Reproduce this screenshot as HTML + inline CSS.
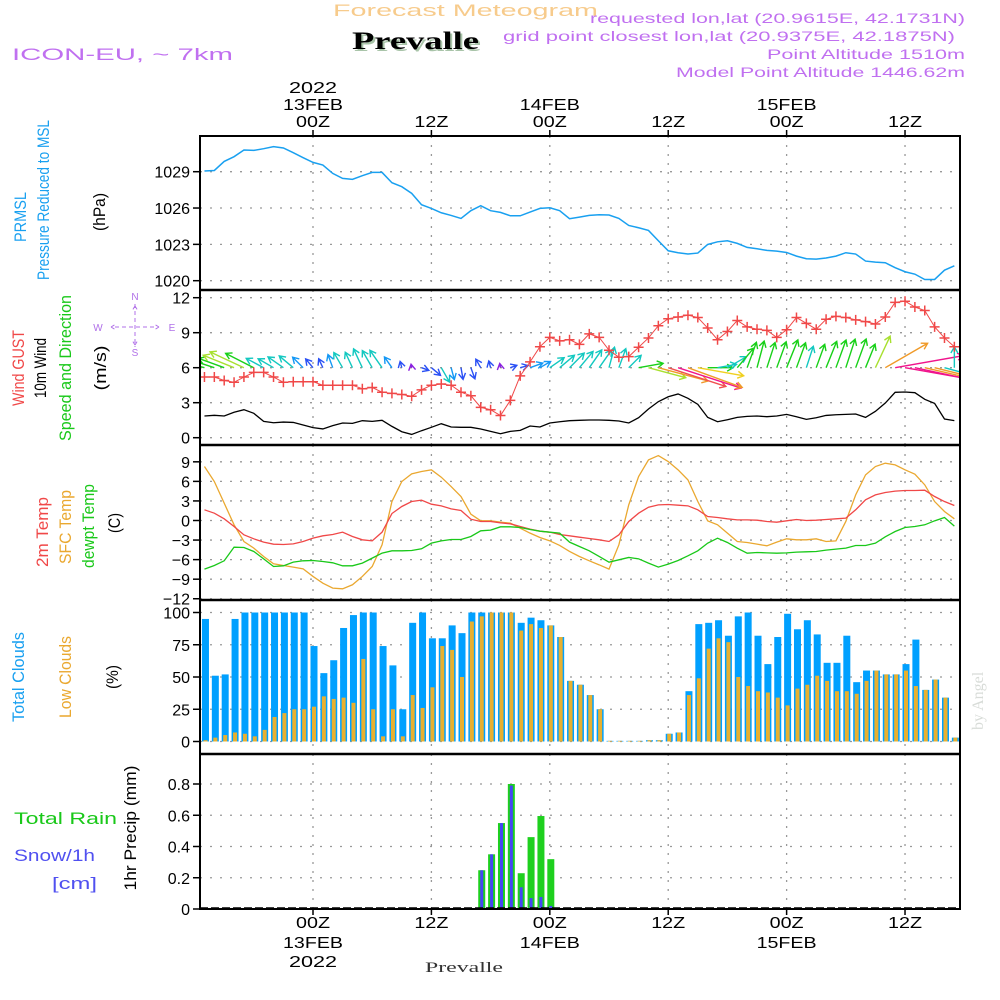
<!DOCTYPE html>
<html><head><meta charset="utf-8"><title>Forecast Meteogram Prevalle</title>
<style>
html,body{margin:0;padding:0;background:#fff;}
svg{display:block;font-family:"Liberation Sans",sans-serif;}
.tick{font-size:16px;fill:#000;text-anchor:end;}
.tl{font-size:16px;fill:#000;text-anchor:middle;}
</style></head>
<body>
<svg id="chart" width="1000" height="1000" viewBox="0 0 1000 1000" xmlns="http://www.w3.org/2000/svg">
<rect x="0" y="0" width="1000" height="1000" fill="#fff"/>
<defs>
<clipPath id="c1"><rect x="200" y="136" width="760" height="154"/></clipPath>
<clipPath id="c2"><rect x="200" y="290" width="760" height="155"/></clipPath>
<clipPath id="c3"><rect x="200" y="445" width="760" height="155"/></clipPath>
<clipPath id="c4"><rect x="200" y="600" width="760" height="154"/></clipPath>
<clipPath id="c5"><rect x="200" y="754" width="760" height="155"/></clipPath>
</defs>
<text x="333" y="16" font-size="17" fill="#f7cb8c" textLength="265" lengthAdjust="spacingAndGlyphs">Forecast Meteogram</text>
<text x="354" y="51" font-family="Liberation Serif, serif" font-weight="bold" font-size="25" fill="#a9c4a9" textLength="127" lengthAdjust="spacingAndGlyphs">Prevalle</text>
<text x="352" y="49" font-family="Liberation Serif, serif" font-weight="bold" font-size="25" fill="#000" textLength="127" lengthAdjust="spacingAndGlyphs">Prevalle</text>
<text x="12" y="60" font-size="17" fill="#c070f0" textLength="221" lengthAdjust="spacingAndGlyphs">ICON-EU, ~ 7km</text>
<text x="965" y="23" font-size="14" fill="#c070f0" text-anchor="end" textLength="375" lengthAdjust="spacingAndGlyphs">requested lon,lat (20.9615E, 42.1731N)</text>
<text x="955" y="41" font-size="14" fill="#c070f0" text-anchor="end" textLength="452" lengthAdjust="spacingAndGlyphs">grid point closest lon,lat (20.9375E, 42.1875N)</text>
<text x="965" y="59" font-size="14" fill="#c070f0" text-anchor="end" textLength="198" lengthAdjust="spacingAndGlyphs">Point Altitude 1510m</text>
<text x="965" y="77" font-size="14" fill="#c070f0" text-anchor="end" textLength="289" lengthAdjust="spacingAndGlyphs">Model Point Altitude 1446.62m</text>
<text transform="translate(983,730) rotate(-90)" font-family="Liberation Serif, serif" font-size="16" fill="#d8dcd8">by Angel</text>
<text x="425" y="972" font-family="Liberation Serif, serif" font-size="15" fill="#333" textLength="78" lengthAdjust="spacingAndGlyphs">Prevalle</text>

<g font-size="17">
<text transform="translate(26,217) rotate(-90)" text-anchor="middle" fill="#19a0f0" textLength="50" lengthAdjust="spacingAndGlyphs">PRMSL</text>
<text transform="translate(49,200) rotate(-90)" text-anchor="middle" fill="#19a0f0" textLength="160" lengthAdjust="spacingAndGlyphs">Pressure Reduced to MSL</text>
<text transform="translate(105,212) rotate(-90)" text-anchor="middle" fill="#000" textLength="38" lengthAdjust="spacingAndGlyphs">(hPa)</text>
<text transform="translate(24,368) rotate(-90)" text-anchor="middle" fill="#f04848" textLength="76" lengthAdjust="spacingAndGlyphs">Wind GUST</text>
<text transform="translate(46,368) rotate(-90)" text-anchor="middle" fill="#000" textLength="60" lengthAdjust="spacingAndGlyphs">10m Wind</text>
<text transform="translate(71,368) rotate(-90)" text-anchor="middle" fill="#19c819" textLength="146" lengthAdjust="spacingAndGlyphs">Speed and Direction</text>
<text transform="translate(106,368) rotate(-90)" text-anchor="middle" fill="#000" textLength="45" lengthAdjust="spacingAndGlyphs">(m/s)</text>
<text transform="translate(48,532) rotate(-90)" text-anchor="middle" fill="#f04848" textLength="70" lengthAdjust="spacingAndGlyphs">2m Temp</text>
<text transform="translate(71,527) rotate(-90)" text-anchor="middle" fill="#eaa830" textLength="74" lengthAdjust="spacingAndGlyphs">SFC Temp</text>
<text transform="translate(94,526) rotate(-90)" text-anchor="middle" fill="#19c819" textLength="84" lengthAdjust="spacingAndGlyphs">dewpt Temp</text>
<text transform="translate(120,523) rotate(-90)" text-anchor="middle" fill="#000" textLength="20" lengthAdjust="spacingAndGlyphs">(C)</text>
<text transform="translate(24,677) rotate(-90)" text-anchor="middle" fill="#19a0f0" textLength="90" lengthAdjust="spacingAndGlyphs">Total Clouds</text>
<text transform="translate(71,677) rotate(-90)" text-anchor="middle" fill="#eaa830" textLength="82" lengthAdjust="spacingAndGlyphs">Low Clouds</text>
<text transform="translate(118,677) rotate(-90)" text-anchor="middle" fill="#000" textLength="24" lengthAdjust="spacingAndGlyphs">(%)</text>
<text transform="translate(136,828) rotate(-90)" text-anchor="middle" fill="#000" textLength="125" lengthAdjust="spacingAndGlyphs">1hr Precip (mm)</text>
<text x="14" y="824" fill="#19c819" textLength="103" lengthAdjust="spacingAndGlyphs">Total   Rain</text>
<text x="14" y="861" fill="#5050f0" textLength="81" lengthAdjust="spacingAndGlyphs">Snow/1h</text>
<text x="52" y="889" fill="#5050f0" textLength="45" lengthAdjust="spacingAndGlyphs">[cm]</text>
</g>
<g fill="#b070e8" font-size="11" stroke="none">
<text x="135" y="300" text-anchor="middle" font-size="10">N</text>
<text x="135" y="356" text-anchor="middle" font-size="10">S</text>
<text x="98" y="331" text-anchor="middle" font-size="10">W</text>
<text x="172" y="331" text-anchor="middle" font-size="10">E</text>
<path d="M135 304 V347 M115 327 H155 M111 327 l5 -3 M111 327 l5 3 M159 327 l-5 -3 M159 327 l-5 3 M135 306 l-3 5 M135 306 l3 5 M135 345 l-3 -5 M135 345 l3 -5" stroke="#b070e8" stroke-width="1" stroke-dasharray="4 3" fill="none"/>
</g>

<g id="grid"></g>
<g id="marks"></g>
<g id="frames"></g>
<g id="labels"></g>
</svg>
<script>
const hours = [];
for (let h = -11; h <= 65; h++) hours.push(h);
const pressure = [1029.06,1029.1,1029.85,1030.24,1030.79,1030.76,1030.9,1031.07,1030.96,1030.57,1030.16,1029.77,1029.55,1028.86,1028.45,1028.37,1028.67,1028.94,1028.94,1028.09,1027.76,1027.21,1026.27,1025.97,1025.61,1025.39,1025.14,1025.78,1026.19,1025.78,1025.64,1025.36,1025.36,1025.67,1025.97,1026.02,1025.78,1025.12,1025.25,1025.39,1025.45,1025.42,1025.14,1024.56,1024.37,1024.15,1023.3,1022.47,1022.31,1022.2,1022.28,1022.99,1023.21,1023.3,1023.08,1022.75,1022.64,1022.5,1022.44,1022.33,1022.03,1021.81,1021.78,1021.87,1022.03,1022.31,1022.2,1021.62,1021.53,1021.48,1021.07,1020.74,1020.54,1020.1,1020.1,1020.87,1021.23];
const gust = [5.2,5.2,4.9,4.75,5.2,5.6,5.6,5.2,4.75,4.8,4.8,4.8,4.5,4.5,4.5,4.5,4.2,4.3,3.9,3.8,3.7,3.55,4.1,4.5,4.6,4.5,3.9,3.6,2.6,2.4,1.9,3.2,5.3,6.5,7.8,8.6,8.3,8.4,8.0,8.9,
8.6,7.5,6.9,6.95,7.75,8.55,9.6,10.2,10.35,10.5,10.3,9.4,8.4,9.1,10.05,9.5,9.3,9.2,8.6,9.25,10.3,9.8,9.3,10.15,10.4,10.3,10.1,9.95,9.75,10.35,11.6,11.7,11.2,10.9,9.5,8.55,7.8];
const wind = [1.86,1.92,1.86,2.18,2.4,2.09,1.4,1.28,1.34,1.31,1.09,0.86,0.75,1.03,1.26,1.23,1.46,1.4,1.49,0.97,0.51,0.28,0.6,0.89,1.2,0.92,0.89,0.89,0.75,0.54,0.34,0.54,0.63,1.0,0.92,1.26,1.37,1.46,1.49,1.52,
1.52,1.49,1.43,1.26,1.71,2.46,3.09,3.51,3.75,3.38,2.86,1.74,1.37,1.54,1.74,1.83,1.86,1.8,1.86,2.0,1.8,1.57,1.71,1.91,1.97,2.0,2.03,1.74,2.26,2.97,3.89,3.92,3.86,3.29,2.94,1.6,1.46];
const windDir = [285,288,290,292,295,297,298,300,305,310,315,320,335,340,330,335,335,330,325,325,345,350,110,130,150,165,170,160,330,345,350,70,75,70,60,55,50,45,40,35,
35,15,20,45,80,105,105,108,108,110,100,90,80,60,40,20,15,18,20,22,20,18,20,22,20,18,20,22,25,60,80,100,102,103,104,105,0];
const temp2m = [1.64,1.12,0.26,-0.92,-2.2,-2.81,-3.32,-3.63,-3.68,-3.58,-3.22,-2.71,-2.35,-2.15,-1.79,-2.45,-2.96,-3.12,-1.79,1.07,2.15,2.91,3.12,2.5,2.25,1.79,1.53,0.2,-0.15,-0.15,-0.36,-0.51,-0.92,-1.33,-1.64,-1.79,-2.15,-2.35,-2.56,-2.76,-2.96,-3.22,-2.2,-0.15,1.12,2.04,2.4,2.45,2.35,2.25,1.64,0.61,0.46,0.26,0.1,0.1,0.05,-0.15,-0.26,-0.05,0.15,0,0.05,0.15,0.26,0.36,1.64,3.17,3.93,4.29,4.5,4.6,4.6,4.65,3.68,2.91,2.3];
const tempSfc = [8.28,5.98,2.66,-0.66,-3.22,-4.24,-5.52,-6.64,-6.9,-7.15,-7.41,-8.58,-9.61,-10.37,-10.48,-9.86,-8.58,-7.05,-3.73,2.91,5.98,7.15,7.51,7.77,6.64,5.21,3.68,0.97,-0.05,-0.05,-0.26,-0.41,-1.18,-1.94,-2.61,-3.12,-3.83,-4.75,-5.52,-6.18,-6.8,-7.46,-3.73,2.4,6.75,9.3,9.96,9.04,7.77,6.23,2.91,-0.05,-0.66,-1.94,-3.22,-3.37,-3.63,-3.88,-3.32,-2.81,-2.96,-2.96,-2.81,-3.22,-3.12,-0.15,3.93,7.0,8.28,8.79,8.53,7.77,7.1,5.47,2.91,1.38,0.26];
const dewpt = [-7.46,-6.9,-6.18,-4.09,-4.14,-4.75,-5.88,-7.05,-6.95,-6.39,-6.18,-6.13,-6.29,-6.49,-6.95,-6.95,-6.54,-5.77,-5.01,-4.65,-4.65,-4.6,-4.34,-3.47,-3.12,-2.91,-2.91,-2.45,-1.58,-1.48,-0.97,-0.97,-1.07,-1.38,-1.64,-1.79,-1.94,-3.32,-3.99,-4.65,-5.52,-6.39,-6.03,-5.67,-5.88,-6.54,-7.15,-6.69,-6.13,-5.42,-4.65,-3.47,-2.71,-3.37,-4.24,-5.01,-4.91,-4.96,-5.01,-4.96,-4.85,-4.8,-4.75,-4.55,-4.39,-4.24,-3.83,-3.83,-3.47,-2.5,-1.69,-1.07,-0.92,-0.66,-0.05,0.46,-0.87];
const totalClouds = [95,51,52,95,100,100,100,100,100,100,100,74,53,63,88,98,100,100,74,59,25,92,100,80,80,90,84,100,100,100,100,100,92,96,94,90,81,47,44,36,25,0.5,0.5,0.5,0.5,1,1,6,7,39,91,92,94,82,97,100,82,60,81,99,87,94,83,61,61,82,46,55,55,52,52,60,79,40,48,34,3];
const lowClouds = [1,3,5,7,6,4,9,19,22,25,25,27,35,33,34,30,64,25,4,25,4,36,26,42,74,71,50,93,97,100,100,100,86,91,88,90,81,47,44,36,25,0.5,0.5,0.5,0.5,1,1,6,7,36,49,72,80,77,50,43,39,38,34,28,41,44,51,47,39,39,37,47,55,52,52,55,43,40,48,34,3];
const precipHours = [17,18,19,20,21,22,23,24];
const rainTotal = [0.248,0.35,0.55,0.8,0.229,0.46,0.595,0.319];
const snow = [0.248,0.35,0.55,0.79,0.139,0.07,0.077,0.02];
const pressTicks = [1020,1023,1026,1029];
const windTicks = [0,3,6,9,12];
const tempTicks = [-12,-9,-6,-3,0,3,6,9];
const cloudTicks = [0,25,50,75,100];
const precipTicks = [0,0.2,0.4,0.6,0.8];
const precipTickLabels = ["0","0.2","0.4","0.6","0.8"];
const timeTicks = [0,12,24,36,48,60];
const timeLabels = ["00Z","12Z","00Z","12Z","00Z","12Z"];
const dayLabels = {0:"13FEB",24:"14FEB",48:"15FEB"};

const X = h => 313 + 9.867 * h;
const P = v => 171.7 + (1029 - v) * 12.11;
const W = v => 437.7 - v * 11.667;
const T = v => 520.5 - v * 6.52;
const C = v => 741.5 - v * 1.29;
const R = v => 909 - v * 156.25;

const NS = "http://www.w3.org/2000/svg";
function mk(tag, attrs, parent) {
  const e = document.createElementNS(NS, tag);
  for (const k in attrs) e.setAttribute(k, attrs[k]);
  parent.appendChild(e);
  return e;
}
const grid = document.getElementById('grid');
const marks = document.getElementById('marks');
const frames = document.getElementById('frames');
const labels = document.getElementById('labels');

const panels = [[136,290],[290,445],[445,600],[600,754],[754,909]];
panels.forEach(p => {
  timeTicks.forEach(t => {
    const l = mk('line', {x1:X(t), x2:X(t), y1:p[0], y2:p[1], stroke:'#999', 'stroke-width':1.3, 'stroke-dasharray':'2 7'}, grid);
    
    
  });
});
function hgrid(ticks, f, texts) {
  ticks.forEach((t, i) => {
    const y = f(t);
    const l = mk('line', {x1:200, x2:960, y1:y, y2:y, stroke:'#999', 'stroke-width':1.3, 'stroke-dasharray':'2 8'}, grid);
    
    
    const tk = mk('line', {x1:193, x2:200, y1:y, y2:y, stroke:'#000', 'stroke-width':1.5}, grid);
    
    
    const tx = mk('text', {x:190, y:y+6, 'class':'tick'}, labels);
    tx.textContent = texts ? texts[i] : String(t).replace('-', '\u2212');
    
    
  });
}
hgrid(pressTicks, P);
hgrid(windTicks, W);
hgrid(tempTicks, T);
hgrid(cloudTicks, C);
hgrid(precipTicks, R, precipTickLabels);

const g1 = mk('g', {'clip-path':'url(#c1)'}, marks);
const pl = mk('polyline', {points: hours.map((h,i)=>X(h)+','+P(pressure[i])).join(' '), fill:'none', stroke:'#19a0f0', 'stroke-width':1.5}, g1);



const g2 = mk('g', {'clip-path':'url(#c2)'}, marks);
function windColor(s) {
  if (s < 0.5) return '#8a20e0';
  if (s < 0.9) return '#2a50f5';
  if (s < 1.2) return '#1498f5';
  if (s < 1.65) return '#12c8c0';
  if (s < 2.1) return '#18d018';
  if (s < 2.5) return '#a8e030';
  if (s < 2.9) return '#f0d020';
  if (s < 3.4) return '#f09a28';
  if (s < 3.75) return '#f05050';
  return '#f0148c';
}
hours.forEach((h, i) => {
  const s = wind[i];
  const len = 12 * s + 1.5 * s * s;
  const a = windDir[i] * Math.PI / 180;
  const x0 = X(h), y0 = W(6);
  const x1 = x0 + len * Math.sin(a), y1 = y0 - len * Math.cos(a);
  const hx = Math.sin(a), hy = -Math.cos(a);
  const hl = 6;
  const bx = x1 - hx * hl, by = y1 - hy * hl;
  const px = -hy * 3.5, py = hx * 3.5;
  const col = windColor(s);
  const ar = mk('path', {d:`M${x0},${y0} L${x1},${y1} M${bx+px},${by+py} L${x1},${y1} L${bx-px},${by-py}`, fill:'none', stroke:col, 'stroke-width':1.4}, g2);
  
  
});
const gl = mk('polyline', {points: hours.map((h,i)=>X(h)+','+W(gust[i])).join(' '), fill:'none', stroke:'#f04848', 'stroke-width':1}, g2);


hours.forEach((h, i) => {
  const x = X(h), y = W(gust[i]);
  const cr = mk('path', {d:`M${x-5},${y} H${x+5} M${x},${y-5} V${y+5}`, stroke:'#f04848', 'stroke-width':1.5}, g2);
  
  
});
const wl = mk('polyline', {points: hours.map((h,i)=>X(h)+','+W(wind[i])).join(' '), fill:'none', stroke:'#000', 'stroke-width':1.3}, g2);



const g3 = mk('g', {'clip-path':'url(#c3)'}, marks);
const ts = mk('polyline', {points: hours.map((h,i)=>X(h)+','+T(tempSfc[i])).join(' '), fill:'none', stroke:'#eaa830', 'stroke-width':1.3}, g3);


const t2 = mk('polyline', {points: hours.map((h,i)=>X(h)+','+T(temp2m[i])).join(' '), fill:'none', stroke:'#f04848', 'stroke-width':1.3}, g3);


const td = mk('polyline', {points: hours.map((h,i)=>X(h)+','+T(dewpt[i])).join(' '), fill:'none', stroke:'#19c819', 'stroke-width':1.3}, g3);



const g4 = mk('g', {'clip-path':'url(#c4)'}, marks);
hours.forEach((h, i) => {
  const cx = X(h) + 1;
  const yt = C(totalClouds[i]);
  const b = mk('rect', {x:cx-3.5, y:yt, width:7, height:C(0)-yt, fill:'#00a0ff'}, g4);
  
  
  const yl = C(lowClouds[i]);
  const o = mk('rect', {x:cx-2, y:yl, width:4, height:C(0)-yl, fill:'#e8b030'}, g4);
  
  
});

const g5 = mk('g', {'clip-path':'url(#c5)'}, marks);
precipHours.forEach((h, i) => {
  const cx = X(h) + 1;
  const yr = R(rainTotal[i]);
  const b = mk('rect', {x:cx-3.5, y:yr, width:7, height:R(0)-yr, fill:'#1ed01e'}, g5);
  
  
  const ys = R(snow[i]);
  const s = mk('rect', {x:cx-1.5, y:ys, width:3, height:R(0)-ys, fill:'#4646f5'}, g5);
  
  
});
const base = mk('line', {x1:200, x2:960, y1:R(0)-1, y2:R(0)-1, stroke:'#000', 'stroke-width':1.5, 'stroke-dasharray':'8 3'}, g5);



const fr = mk('rect', {x:200, y:136, width:760, height:773, fill:'none', stroke:'#000', 'stroke-width':2}, frames);


[290,445,600,754].forEach(y => {
  const s = mk('line', {x1:200, x2:960, y1:y, y2:y, stroke:'#000', 'stroke-width':2.5}, frames);
  
  
});
timeTicks.forEach((t, i) => {
  const x = X(t);
  const a = mk('line', {x1:x, x2:x, y1:130, y2:136, stroke:'#000', 'stroke-width':1.5}, frames);
  
  
  const b = mk('line', {x1:x, x2:x, y1:909, y2:915, stroke:'#000', 'stroke-width':1.5}, frames);
  
  
  const top = mk('text', {x:x, y:127, 'class':'tl', textLength:34, lengthAdjust:'spacingAndGlyphs'}, labels);
  top.textContent = timeLabels[i];
  
  
  const bot = mk('text', {x:x, y:928, 'class':'tl', textLength:34, lengthAdjust:'spacingAndGlyphs'}, labels);
  bot.textContent = timeLabels[i];
  
  
  if (dayLabels[t]) {
    const d1 = mk('text', {x:x, y:110, 'class':'tl', textLength:60, lengthAdjust:'spacingAndGlyphs'}, labels);
    d1.textContent = dayLabels[t];
    
    
    const d2 = mk('text', {x:x, y:948, 'class':'tl', textLength:60, lengthAdjust:'spacingAndGlyphs'}, labels);
    d2.textContent = dayLabels[t];
    
    
  }
  if (t === 0) {
    const y1 = mk('text', {x:x, y:93, 'class':'tl', textLength:48, lengthAdjust:'spacingAndGlyphs'}, labels);
    y1.textContent = '2022';
    
    
    const y2 = mk('text', {x:x, y:967, 'class':'tl', textLength:48, lengthAdjust:'spacingAndGlyphs'}, labels);
    y2.textContent = '2022';
    
    
  }
});
</script>
</body></html>
